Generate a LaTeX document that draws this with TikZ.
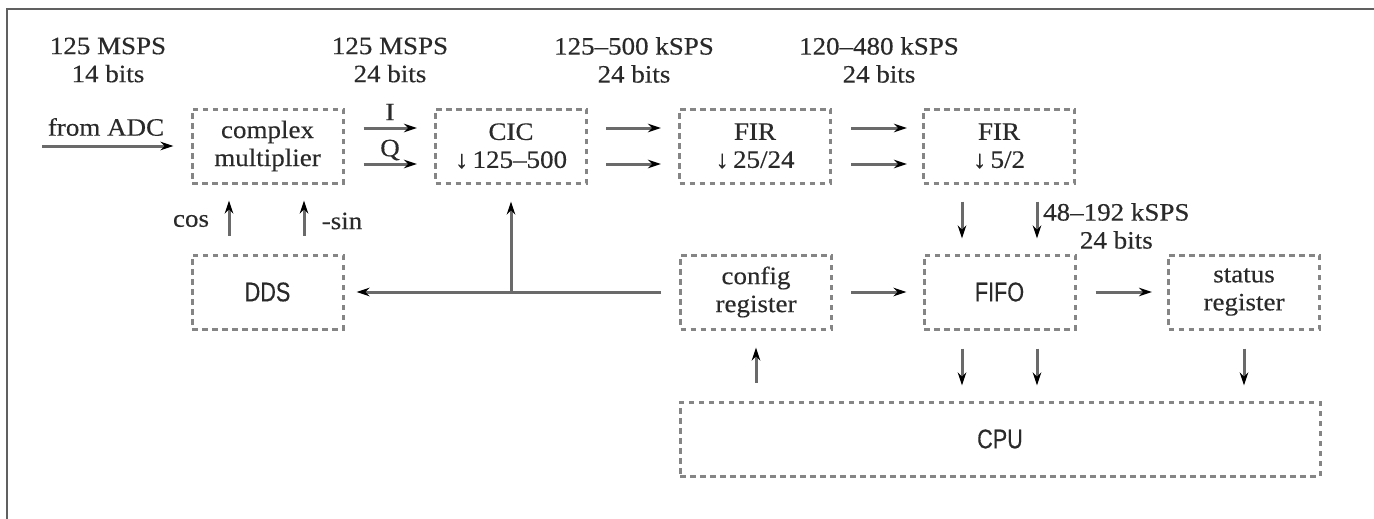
\documentclass[tikz,border=0pt]{standalone}
\usepackage{fontspec}
\setmainfont[FakeStretch=1.08,FakeBold=0.35]{Liberation Serif}
\newfontfamily\condfont[FakeStretch=0.8,FakeBold=0.3]{Liberation Sans}
\usetikzlibrary{arrows.meta}
\definecolor{boxgray}{HTML}{858585}
\definecolor{linegray}{HTML}{6A6A6A}
\definecolor{txt}{HTML}{2A2A2A}
\definecolor{framegray}{HTML}{606060}
\begin{document}
\begin{tikzpicture}[x=1pt,y=-1pt,
  every node/.style={font=\fontsize{25}{28}\selectfont, text=txt},
  blk/.style={draw=boxgray, line width=3pt, dash pattern=on 5.5pt off 4.5pt,
    minimum width=151pt, minimum height=74pt, inner sep=0pt, align=center},
  cond/.style={font=\condfont\fontsize{27}{30}\selectfont},
  arr/.style={draw=linegray, line width=3pt, -{Stealth[length=13pt,width=8.5pt,black]}},
  lbl/.style={align=center, inner sep=0pt}]
\useasboundingbox (0,0) rectangle (1374,519);
\draw[framegray, line width=2pt] (7,519) -- (7,9) -- (1374,9);
% blocks
\node[blk] (cm) at (267.5,146) {complex\\multiplier};
\node[blk] (cic) at (511,146) {CIC\\↓\,125–500};
\node[blk] (fir1) at (755,146) {FIR\\↓\,25/24};
\node[blk] (fir2) at (999,146) {FIR\\↓\,5/2};
\node[blk,cond] (dds) at (267.5,292) {DDS};
\node[blk] (cfg) at (756,292) {config\\register};
\node[blk,cond] (fifo) at (999.5,292) {FIFO};
\node[blk] (stat) at (1244,292) {status\\register};
\node[blk,cond, minimum width=640pt] (cpu) at (1000,439) {CPU};
% headers
\node[lbl] (h1) at (108,60) {125 MSPS\\14 bits};
\node[lbl] (h2) at (390,60) {125 MSPS\\24 bits};
\node[lbl] (h3) at (634,60) {125–500 kSPS\\24 bits};
\node[lbl] (h4) at (879,60) {120–480 kSPS\\24 bits};
% input
\coordinate (adc) at (42,146);
\node[lbl] (adcl) at (106,127) {from ADC};
\draw[arr, shorten >=17pt] (adc) -- (cm.west);
% I/Q
\draw[arr, shorten <=19pt, shorten >=17pt] ([yshift=18pt]cm.east) -- ([yshift=18pt]cic.west);
\draw[arr, shorten <=19pt, shorten >=17pt] ([yshift=-18pt]cm.east) -- ([yshift=-18pt]cic.west);
\node[lbl] (il) at (390,112) {I};
\node[lbl] (ql) at (390,150) {Q};
\draw[arr, shorten <=18pt, shorten >=17pt] ([yshift=18pt]cic.east) -- ([yshift=18pt]fir1.west);
\draw[arr, shorten <=18pt, shorten >=17pt] ([yshift=-18pt]cic.east) -- ([yshift=-18pt]fir1.west);
\draw[arr, shorten <=19pt, shorten >=15pt] ([yshift=18pt]fir1.east) -- ([yshift=18pt]fir2.west);
\draw[arr, shorten <=19pt, shorten >=15pt] ([yshift=-18pt]fir1.east) -- ([yshift=-18pt]fir2.west);
% DDS to multiplier
\draw[arr, shorten <=18pt, shorten >=16pt] ([xshift=-38.5pt]dds.north) -- ([xshift=-38.5pt]cm.south);
\draw[arr, shorten <=18pt, shorten >=16pt] ([xshift=36.5pt]dds.north) -- ([xshift=36.5pt]cm.south);
\node[lbl] (cosl) at (191,221) {cos};
\node[lbl] (sinl) at (342,221) {-sin};
% config to DDS and CIC
\coordinate (jn) at (cic.south |- cfg.west);
\draw[arr, shorten <=18pt, shorten >=12pt] (cfg.west) -- (dds.east);
\draw[arr, shorten >=17pt] (jn) -- (cic.south);
% FIR2 to FIFO
\draw[arr, shorten <=17pt, shorten >=15pt] ([xshift=-37pt]fir2.south) -- ([xshift=-37.5pt]fifo.north);
\draw[arr, shorten <=17pt, shorten >=15pt] ([xshift=38pt]fir2.south) -- ([xshift=37.5pt]fifo.north);
\node[lbl, anchor=west] (rl) at (1043,226) {48–192 kSPS\\24 bits};
% right row
\draw[arr, shorten <=18pt, shorten >=16pt] (cfg.east) -- (fifo.west);
\draw[arr, shorten <=19pt, shorten >=15pt] (fifo.east) -- (stat.west);
% CPU links
\draw[arr, shorten <=18pt, shorten >=17pt] (cpu.north -| cfg.south) -- (cfg.south);
\draw[arr, shorten <=18pt, shorten >=15pt] ([xshift=-37.5pt]fifo.south) -- ([xshift=-37.5pt]fifo.south |- cpu.north);
\draw[arr, shorten <=18pt, shorten >=15pt] ([xshift=37.5pt]fifo.south) -- ([xshift=37.5pt]fifo.south |- cpu.north);
\draw[arr, shorten <=18pt, shorten >=15pt] (stat.south) -- (stat.south |- cpu.north);
\end{tikzpicture}
\end{document}
